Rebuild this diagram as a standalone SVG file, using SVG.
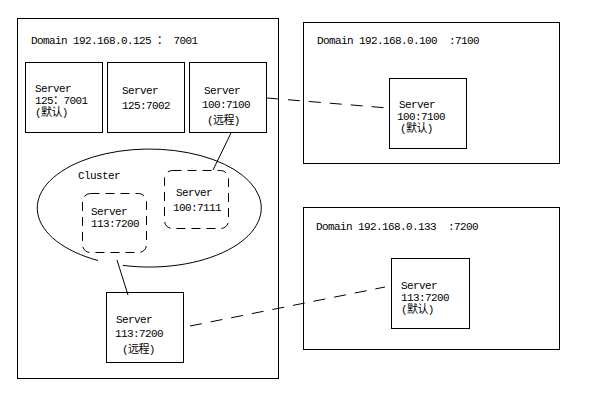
<svg xmlns="http://www.w3.org/2000/svg" width="589" height="407" viewBox="0 0 589 407">
<style>
.box{fill:none;stroke:#000;stroke-width:1}
.dbox{fill:none;stroke:#000;stroke-width:1;stroke-dasharray:9 6}
.ln{fill:none;stroke:#000;stroke-width:1}
.dl{fill:none;stroke:#000;stroke-width:1;stroke-dasharray:12 9}
text{font-family:"Liberation Mono","Noto Sans CJK SC",monospace;font-size:11px;letter-spacing:-0.6px;fill:#000;white-space:pre}
</style>
<rect width="589" height="407" fill="#fff"/>
<g id="domain125">
<rect class="box" x="17.5" y="18.5" width="261" height="360"/>
<text x="31" y="44" xml:space="preserve">Domain 192.168.0.125 ： 7001</text>
</g>
<g id="domain100">
<rect class="box" x="303.5" y="22.5" width="256" height="141"/>
<text x="317" y="44" xml:space="preserve">Domain 192.168.0.100  :7100</text>
</g>
<g id="domain133">
<rect class="box" x="303.5" y="207.5" width="256" height="142"/>
<text x="316" y="230" xml:space="preserve">Domain 192.168.0.133  :7200</text>
</g>
<g id="server125_7001">
<rect class="box" x="25.5" y="62.5" width="77" height="70"/>
<text x="35" y="92">Server</text>
<text x="35" y="104">125：7001</text>
<text x="35" y="116">(默认)</text>
</g>
<g id="server125_7002">
<rect class="box" x="107.5" y="62.5" width="77" height="70"/>
<text x="122" y="94">Server</text>
<text x="122" y="109">125:7002</text>
</g>
<g id="server100_7100_remote">
<rect class="box" x="189.5" y="62.5" width="77" height="70"/>
<text x="204" y="94">Server</text>
<text x="202" y="108">100:7100</text>
<text x="207" y="124">(远程)</text>
</g>
<g id="cluster">
<path class="ln" d="M123,265.4 A112,59 0 1,0 98,260.5"/>
<text x="78" y="179">Cluster</text>
</g>
<g id="server113_7200_cluster">
<rect class="dbox" x="82.5" y="193.5" width="64" height="59" rx="8"/>
<text x="91" y="215">Server</text>
<text x="91" y="227">113:7200</text>
</g>
<g id="server100_7111">
<rect class="dbox" x="164.5" y="170.5" width="64" height="58" rx="8"/>
<text x="176" y="196">Server</text>
<text x="173" y="211">100:7111</text>
</g>
<g id="server113_7200_remote">
<rect class="box" x="106.5" y="292.5" width="77" height="70"/>
<text x="116" y="323">Server</text>
<text x="115" y="337">113:7200</text>
<text x="122" y="353">(远程)</text>
</g>
<g id="server100_7100_default">
<rect class="box" x="389.5" y="78.5" width="77" height="70"/>
<text x="399" y="108">Server</text>
<text x="397" y="120">100:7100</text>
<text x="400" y="132">(默认)</text>
</g>
<g id="server113_7200_default">
<rect class="box" x="391.5" y="258.5" width="78" height="70"/>
<text x="401" y="289">Server</text>
<text x="401" y="301">113:7200</text>
<text x="401" y="313">(默认)</text>
</g>
<g id="connectors">
<line class="ln" x1="231" y1="133" x2="213" y2="170"/>
<line class="ln" x1="117" y1="260" x2="128" y2="295"/>
<line class="dl" x1="267" y1="98" x2="388" y2="108"/>
<line class="dl" x1="190" y1="326" x2="385" y2="287"/>
</g>
</svg>
